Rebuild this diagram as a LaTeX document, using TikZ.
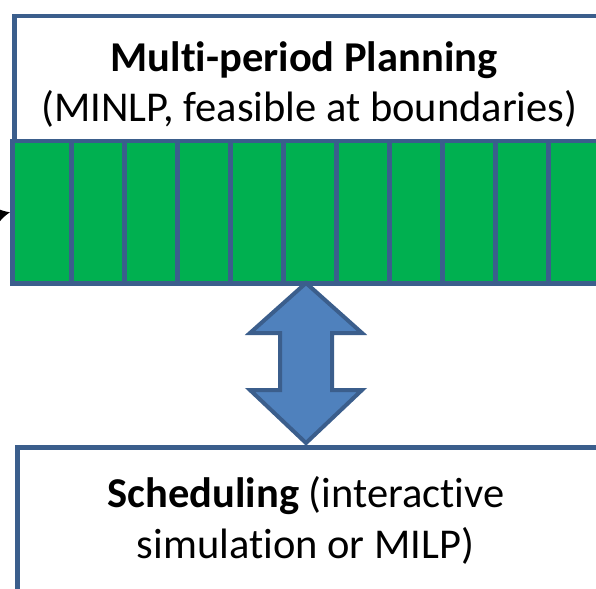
\documentclass[tikz,border=0pt]{standalone}
\usepackage{fontspec}
\setmainfont{Carlito}[Ligatures=NoCommon]
\usetikzlibrary{calc,arrows.meta}
\definecolor{edgeblue}{HTML}{3B5E8C}
\definecolor{cellgreen}{HTML}{00B050}
\definecolor{arrowblue}{HTML}{4F81BD}
\begin{document}
\begin{tikzpicture}[x=1pt,y=-1pt,
  box/.style={draw=edgeblue,line width=4.5pt,fill=white,inner sep=0pt},
  cellbox/.style={draw=edgeblue,line width=4.5pt,fill=cellgreen,inner sep=0pt,
    minimum height=142pt,anchor=north west},
  txt/.style={font=\fontsize{42.5}{51}\selectfont,anchor=base,inner sep=0pt},
  linkarrow/.style={draw=edgeblue,fill=arrowblue,line width=4pt,line join=miter}]
\useasboundingbox (0,0) rectangle (596,588);
\clip (0,0) rectangle (596,588);

% planning box (continues past the right edge)
\node[box,anchor=north west,minimum width=640pt,minimum height=125pt] (plan) at (12,14) {};
\node[txt] (plantitle) at (304,72) {\textbf{Multi-period Planning}};
\node[txt] (plansub) at (309.5,122) {(MINLP, feasible at boundaries)};

% row of planning periods
\node[cellbox,minimum width=59pt] (p0) at (10,139) {};
\foreach \k in {1,...,11}
  \node[cellbox,minimum width=53pt] (p\k) at ({69+53*(\k-1)},139) {};

% incoming arrow at the left edge of the period row
\coordinate (inlet) at (-60,228);
\draw[-{Latex[length=14pt,width=17pt]},line width=2pt] (inlet) -- (p0.west);

% scheduling box (continues past the right and bottom edges)
\node[box,anchor=north west,minimum width=640pt,minimum height=200pt] (sched) at (15,445) {};
\node[txt] (schedtitle) at (306,507) {\textbf{Scheduling} (interactive};
\node[txt] (schedsub) at (305.5,558) {simulation or MILP)};

% two-way link between planning and scheduling
\coordinate (atop) at (306,283);
\coordinate (abot) at (306,443);
\draw[linkarrow]
  (atop) -- ($(atop)+(56,50)$) -- ($(atop)+(26,50)$)
  -- ($(abot)+(26,-53)$) -- ($(abot)+(56,-53)$) -- (abot)
  -- ($(abot)+(-56,-53)$) -- ($(abot)+(-26,-53)$)
  -- ($(atop)+(-26,50)$) -- ($(atop)+(-56,50)$) -- cycle;
\end{tikzpicture}
\end{document}
